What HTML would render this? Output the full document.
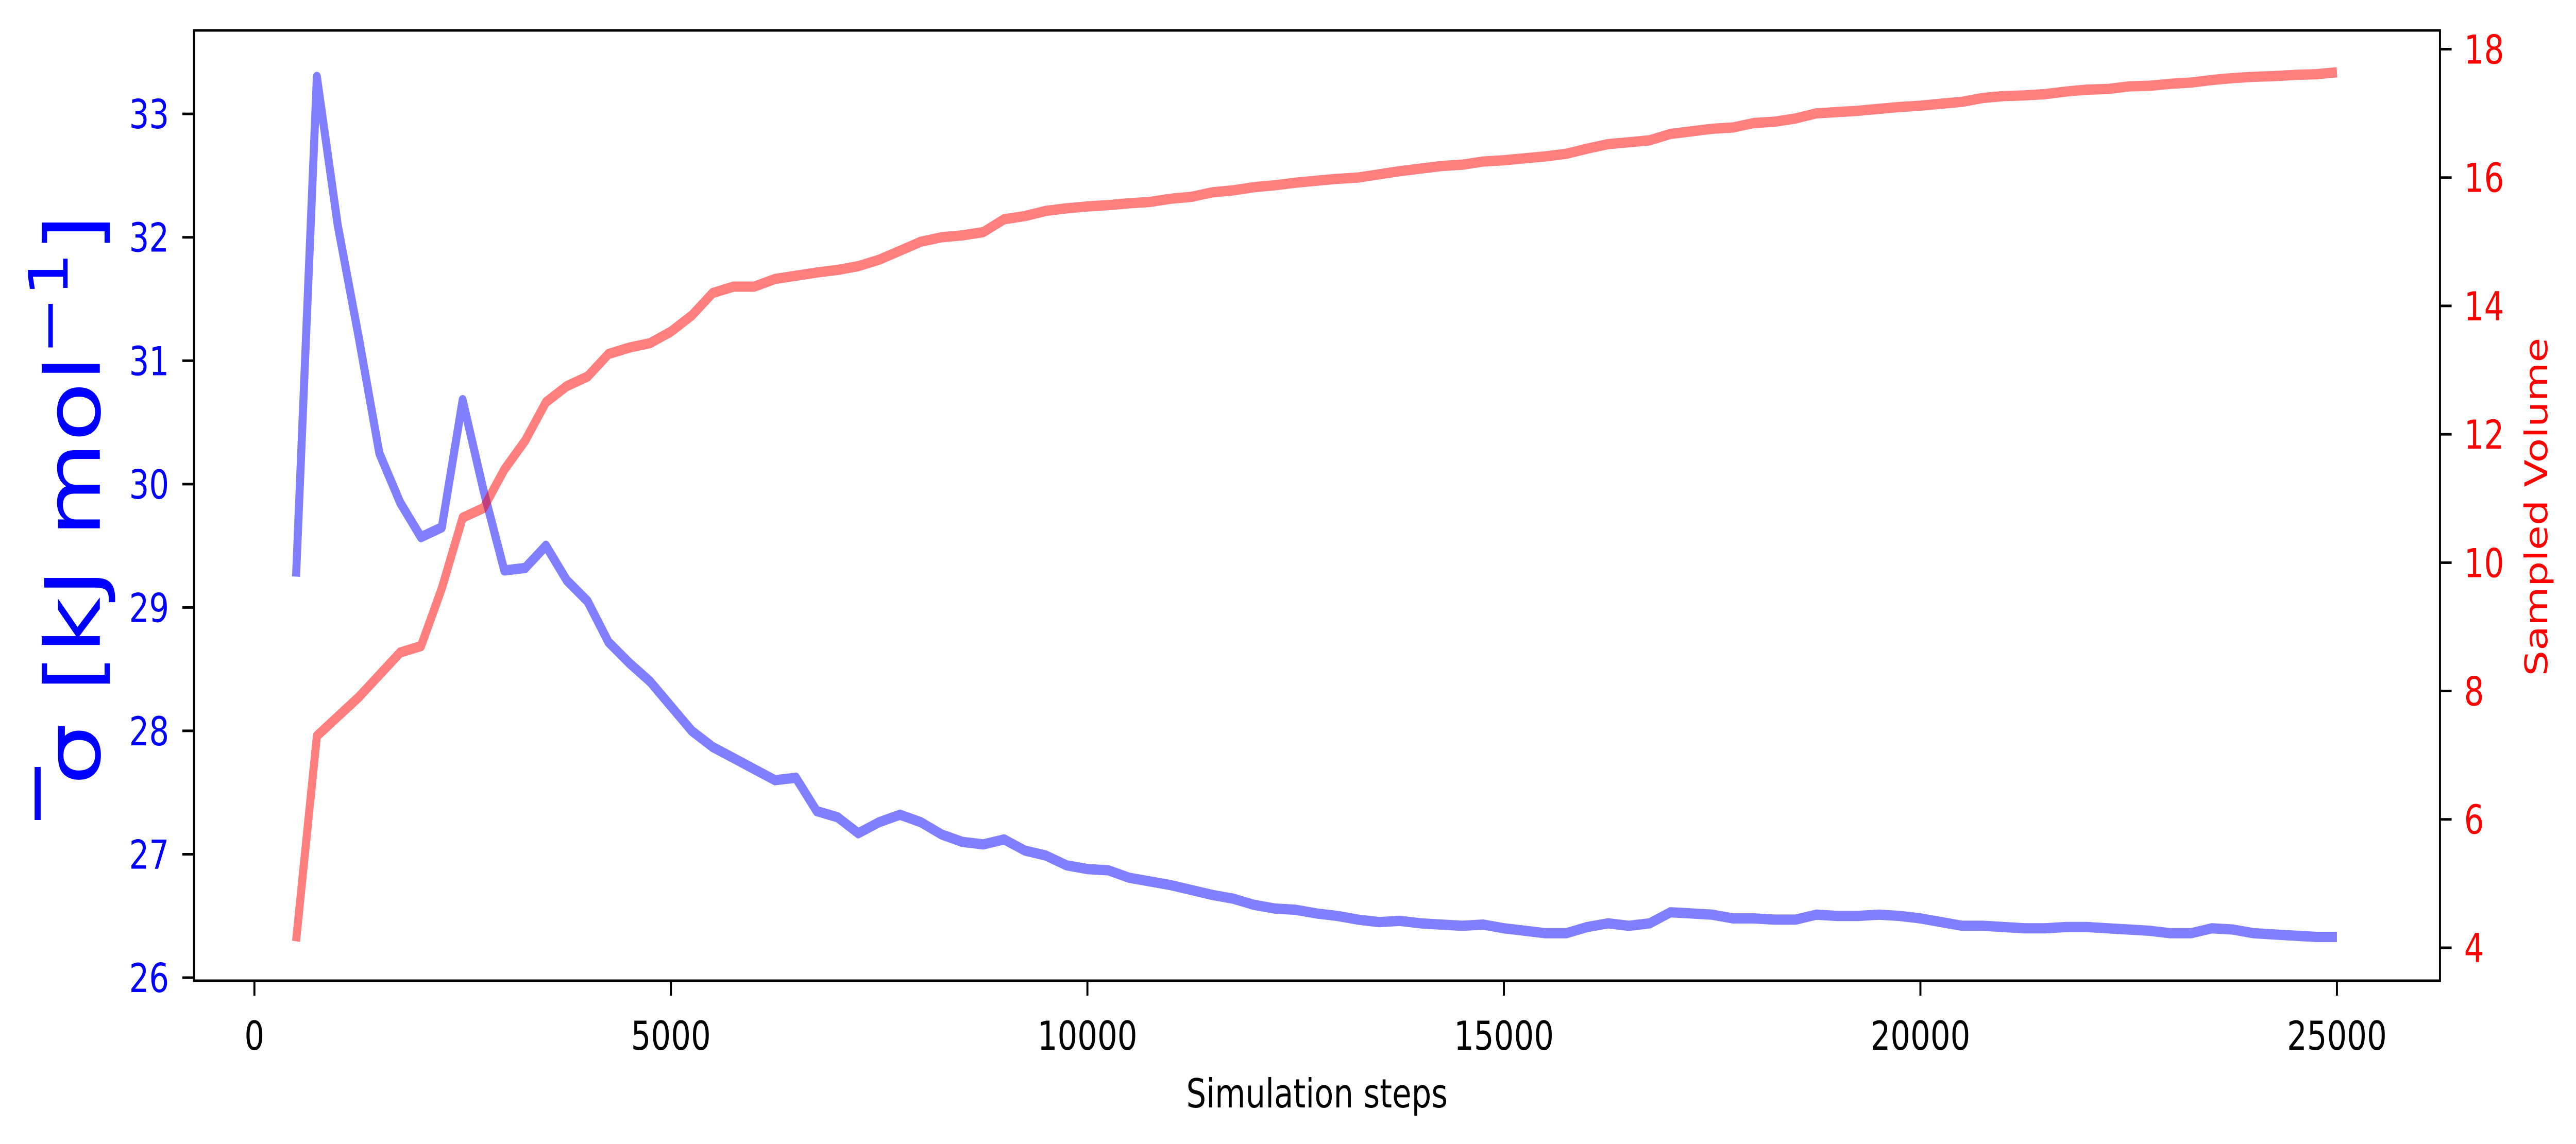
<!DOCTYPE html>
<html><head><meta charset="utf-8">
<style>
html,body{margin:0;padding:0;background:#fff;width:100%;height:100%;overflow:hidden;}
svg{display:block;width:100vw;height:100vh;}
text{font-family:"DejaVu Sans","Liberation Sans",sans-serif;}
</style></head>
<body>
<svg id="chart" viewBox="0 0 6400 2221" preserveAspectRatio="none" xmlns="http://www.w3.org/2000/svg"></svg>
<script>
const stepStart = 500;
const stepSize = 250;
const sigmaValues = [29.25,33.3,32.1,31.2,30.25,29.85,29.57,29.65,30.68,29.95,29.3,29.32,29.5,29.22,29.05,28.72,28.55,28.4,28.2,28.0,27.87,27.78,27.69,27.6,27.62,27.35,27.3,27.17,27.26,27.32,27.26,27.16,27.1,27.08,27.12,27.03,26.99,26.91,26.88,26.87,26.81,26.78,26.75,26.71,26.67,26.64,26.59,26.56,26.55,26.52,26.5,26.47,26.45,26.46,26.44,26.43,26.42,26.43,26.4,26.38,26.36,26.36,26.41,26.44,26.42,26.44,26.53,26.52,26.51,26.48,26.48,26.47,26.47,26.51,26.5,26.5,26.51,26.5,26.48,26.45,26.42,26.42,26.41,26.4,26.4,26.41,26.41,26.4,26.39,26.38,26.36,26.36,26.4,26.39,26.36,26.35,26.34,26.33,26.33];
const volumeValues = [4.1,7.3,7.6,7.9,8.25,8.6,8.7,9.6,10.7,10.85,11.45,11.9,12.5,12.75,12.9,13.25,13.35,13.42,13.6,13.85,14.2,14.3,14.3,14.42,14.47,14.52,14.56,14.62,14.72,14.86,15.0,15.07,15.1,15.15,15.35,15.4,15.48,15.52,15.55,15.57,15.6,15.62,15.67,15.7,15.77,15.8,15.85,15.88,15.92,15.95,15.98,16.0,16.05,16.1,16.14,16.18,16.2,16.25,16.27,16.3,16.33,16.37,16.45,16.52,16.55,16.58,16.68,16.72,16.76,16.78,16.85,16.87,16.92,17.0,17.02,17.04,17.07,17.1,17.12,17.15,17.18,17.24,17.27,17.28,17.3,17.34,17.37,17.38,17.42,17.43,17.46,17.48,17.52,17.55,17.57,17.58,17.6,17.61,17.64];
const xTicks = [0,5000,10000,15000,20000,25000];
const leftTicks = [26,27,28,29,30,31,32,33];
const rightTicks = [4,6,8,10,12,14,16,18];

const NS = "http://www.w3.org/2000/svg";
const svg = document.getElementById('chart');
const L = 482, R = 6062, T = 59, B = 1904;
const xMin = -725, xMax = 26237;
const lMin = 25.975, lMax = 33.677;
const rMin = 3.486, rMax = 18.293;
const xS = v => L + (v - xMin) / (xMax - xMin) * (R - L);
const yL = v => B - (v - lMin) / (lMax - lMin) * (B - T);
const yR = v => B - (v - rMin) / (rMax - rMin) * (B - T);

function mk(tag, attrs, parent) {
  const e = document.createElementNS(NS, tag);
  for (const k in attrs) e.setAttribute(k, attrs[k]);
  (parent || svg).appendChild(e);
  return e;
}

function linePath(vals, yf) {
  return vals.map((v, i) => (i ? 'L' : 'M') + xS(stepStart + i * stepSize).toFixed(1) + ' ' + yf(v).toFixed(1)).join(' ');
}

const sigmaLine = mk('path', {d: linePath(sigmaValues, yL), fill: 'none', stroke: 'rgba(0,0,255,0.5)', 'stroke-width': 20, 'stroke-linejoin': 'round'});


const volLine = mk('path', {d: linePath(volumeValues, yR), fill: 'none', stroke: 'rgba(255,0,0,0.5)', 'stroke-width': 20, 'stroke-linejoin': 'round'});



const frame = mk('rect', {x: L, y: T, width: R - L, height: B - T, fill: 'none', stroke: '#000', 'stroke-width': 5});



xTicks.forEach(v => {
  const x = xS(v);
  const t = mk('line', {x1: x, y1: B, x2: x, y2: B + 29, stroke: '#000', 'stroke-width': 5});
  
  
  const lb = mk('text', {x: x, y: 2038, 'font-size': 78, 'text-anchor': 'middle', fill: '#000'});
  lb.textContent = v;
  
  
});
leftTicks.forEach(v => {
  const y = yL(v);
  const t = mk('line', {x1: L - 29, y1: y, x2: L, y2: y, stroke: '#000', 'stroke-width': 5});
  
  
  const lb = mk('text', {x: 420, y: y + 28, 'font-size': 78, 'text-anchor': 'end', fill: '#0000ff'});
  lb.textContent = v;
  
  
});
rightTicks.forEach(v => {
  const y = yR(v);
  const t = mk('line', {x1: R, y1: y, x2: R + 29, y2: y, stroke: '#000', 'stroke-width': 5});
  
  
  const lb = mk('text', {x: 6122, y: y + 28, 'font-size': 78, 'text-anchor': 'start', fill: '#ff0000'});
  lb.textContent = v;
  
  
});

const xt = mk('text', {x: (L + R) / 2, y: 2150, 'font-size': 78, 'text-anchor': 'middle', fill: '#000'});
xt.textContent = 'Simulation steps';



const rt = mk('text', {x: 0, y: 0, 'font-size': 78, 'text-anchor': 'middle', fill: '#ff0000', transform: 'translate(6328,984) rotate(-90)'});
rt.textContent = 'Sampled Volume';



const lg = mk('g', {transform: 'translate(248,970) rotate(-90)'});


const lt = mk('text', {x: 0, y: 0, 'font-size': 190, 'text-anchor': 'middle', fill: '#0000ff'}, lg);
lt.innerHTML = 'σ [kJ mol<tspan font-size="135" dy="-80">−1</tspan><tspan dy="80">]</tspan>';
const ob = mk('rect', {x: -622, y: -162, width: 103, height: 15, fill: '#0000ff'}, lg);


</script>
</body></html>
